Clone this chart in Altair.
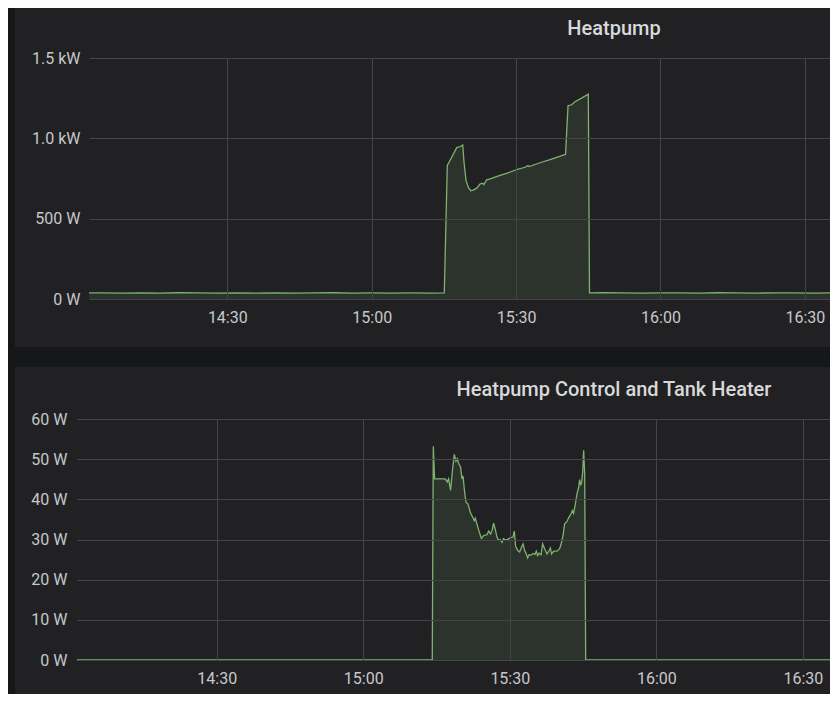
import altair as alt
import pandas as pd

# ---------------- data (minutes after 14:00, watts) ----------------
hp_min = [1.27, 4, 8, 12, 16, 20, 24, 28, 32, 36, 40, 44, 48, 52, 56, 60, 64, 68, 72, 75.08,
          75.71, 76.62, 77.66, 78.49, 78.91, 79.18, 79.59, 80.07, 80.57, 81.11, 81.82, 82.5,
          82.98, 83.33, 83.89, 84.58, 86.66, 88.32, 90.13, 91.85, 92.47, 92.68, 94.97, 97.05,
          98.71, 99.96, 100.27, 100.79, 101.55, 102.24, 103.69, 105.0,
          105.25, 108, 112, 116, 120, 124, 128, 132, 136, 140, 144, 148, 152, 155.22]
hp_w = [38, 38, 36, 38, 37, 39, 38, 37, 38, 36, 38, 37, 38, 39, 37, 38, 37, 38, 37, 38,
        831, 882, 942, 949, 959, 851, 738, 696, 674, 678, 690, 715,
        721, 713, 742, 748, 770, 785, 806, 820, 830, 824, 848, 868,
        885, 897, 900, 1203, 1209, 1228, 1252, 1275,
        38, 39, 38, 37, 38, 38, 37, 39, 38, 37, 38, 38, 37, 38]

ctl_min = [1.4, 74.13, 74.34, 74.6, 76.79, 77.2, 77.47, 77.88, 78.29, 78.64, 78.98, 79.25, 79.52,
           79.93, 80.21, 80.42, 80.75, 81.03, 81.44, 81.91, 82.38, 82.73, 82.94, 83.35, 83.82,
           84.17, 84.64, 85.33, 85.66, 86.07, 86.36, 86.68, 87.03, 87.38, 87.71, 88.06, 88.4,
           88.73, 89.08, 89.63, 90.1, 90.65, 90.92, 91.19, 91.6, 92.01, 92.3, 92.71, 93.03,
           93.38, 93.65, 93.93, 94.34, 94.75, 95.16, 95.43, 95.7, 95.98, 96.39, 96.72, 97.13,
           97.62, 98.03, 98.3, 98.56, 98.97, 99.67, 100.2, 100.49, 100.9, 101.22, 101.72,
           102.05, 102.54, 102.8, 103.07, 103.42, 103.77, 104.1, 104.3, 104.51, 104.71,
           104.92, 105.12, 105.33, 105.53, 155.55]
ctl_w = [0, 0, 53.2, 45.1, 45.1, 44.3, 45.1, 42.2, 47.6, 51.2, 49.5, 50.1, 49.0,
         48.0, 45.1, 45.8, 41.8, 39.3, 38.9, 36.8, 35.6, 34.7, 35.3, 33.5, 31.6,
         30.3, 31.0, 31.2, 32.1, 31.4, 32.2, 34.1, 32.5, 30.6, 29.8, 30.0, 29.3,
         30.2, 29.8, 30.1, 30.4, 30.6, 32.1, 28.3, 27.3, 26.9, 27.8, 28.9, 27.3,
         26.4, 25.4, 26.2, 26.1, 26.5, 26.3, 27.1, 26.0, 26.6, 26.2, 28.9, 27.7,
         26.4, 27.2, 27.9, 26.4, 27.1, 27.1, 27.7, 28.8, 31.0, 33.9, 34.5,
         35.4, 36.4, 37.2, 36.5, 38.9, 41.4, 43.0, 44.9, 43.5, 44.3,
         46.8, 52.2, 46.4, 0, 0]

x_ticks = ["14:30", "15:00", "15:30", "16:00", "16:30"]
hp_ticks = [0, 500, 1000, 1500]
ctl_ticks = [0, 10, 20, 30, 40, 50, 60]
titles = ["Heatpump", "Heatpump Control and Tank Heater"]

# ---------------- style ----------------
PAGE = "#161719"
PANEL = "#212124"
GRID = "#444549"
GREEN = "#7eb26d"
LABEL = "#c7c8ca"
TITLE = "#d8d9da"
FONT = "Roboto"

base = pd.Timestamp("2021-01-01 14:00:00")


def frame(mins, vals):
    return pd.DataFrame({"t": [base + pd.Timedelta(minutes=m) for m in mins], "v": vals})


def dt(h, m, s=0):
    return alt.DateTime(year=2021, month=1, date=1, hours=h, minutes=m, seconds=s)


x_values = [dt(int(s[:2]), int(s[3:])) for s in x_ticks]
W = 741


def panel(df, title, x_domain, x_range, ymax, yvals, label_expr, h, top, bottom,
          ypad, dx, toff):
    xenc = alt.X("t:T", scale=alt.Scale(domain=x_domain, range=x_range),
                 axis=alt.Axis(values=x_values, format="%H:%M", title=None, grid=True,
                               gridColor=GRID, gridWidth=1, domain=False, ticks=False,
                               labelPadding=10, labelColor=LABEL, labelFontSize=16,
                               labelFont=FONT, labelFlush=False, zindex=1))
    yenc = alt.Y("v:Q", scale=alt.Scale(domain=[0, ymax], nice=False),
                 axis=alt.Axis(values=yvals, labelExpr=label_expr, title=None, grid=True,
                               gridColor=GRID, gridWidth=1, domain=False, ticks=False,
                               labelPadding=ypad, labelColor=LABEL, labelFontSize=16,
                               labelFont=FONT, zindex=1))
    bg = alt.Chart(pd.DataFrame({"a": [0]})).mark_rect(color=PANEL, clip=False).encode(
        x=alt.value(-74), x2=alt.value(W), y=alt.value(-top), y2=alt.value(h + bottom))
    area = alt.Chart(df).mark_area(color=GREEN, opacity=0.12, clip=False).encode(x=xenc, y=yenc)
    line = alt.Chart(df).mark_line(color=GREEN, strokeWidth=1.3, clip=False).encode(
        x="t:T", y="v:Q")
    return alt.layer(bg, area, line).properties(
        width=W, height=h,
        title=alt.TitleParams(title, anchor="middle", frame="group", dx=dx,
                              baseline="alphabetic", offset=toff, fontSize=20,
                              fontWeight=500, color=TITLE, font=FONT),
    )


kw_expr = "datum.value >= 1000 ? format(datum.value / 1000, '.1f') + ' kW' : datum.value + ' W'"
w_expr = "datum.value + ' W'"

p1 = panel(frame(hp_min, hp_w), titles[0], [dt(14, 1, 16), dt(16, 35, 13)], [0, W],
           1500, hp_ticks, kw_expr, 241, 50, 48, 9, 614 - (89 + W / 2), -47)
p2 = panel(frame(ctl_min, ctl_w), titles[1], [dt(14, 1, 24), dt(16, 35, 33)], [-12, W],
           60, ctl_ticks, w_expr, 241, 52, 34, 22, 614 - (89 + W / 2), -49)

chart = alt.concat(p1, p2, columns=1, spacing=20).properties(
    background=PAGE,
    padding={"left": 7, "top": 0, "right": -12, "bottom": 0},
).configure_view(stroke=None)

chart.save("out.html", embed_options={"renderer": "svg", "actions": False})
